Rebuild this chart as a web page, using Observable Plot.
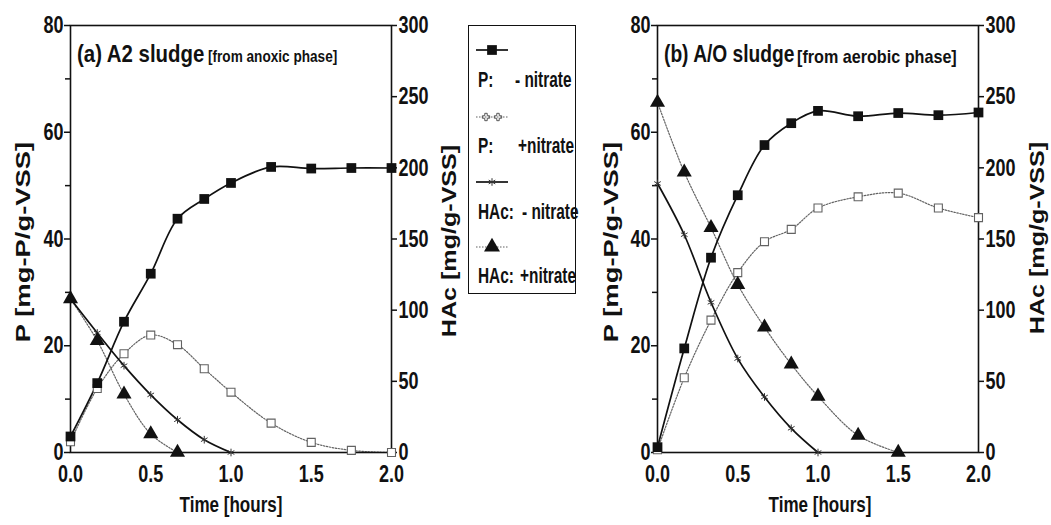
<!DOCTYPE html>
<html><head><meta charset="utf-8">
<script src="https://cdn.jsdelivr.net/npm/d3@7"></script>
<script src="https://cdn.jsdelivr.net/npm/@observablehq/plot@0.6"></script>
<style>
body{margin:0;background:#fff;}
#wrap{position:relative;width:1051px;height:525px;overflow:hidden;font-family:"Liberation Sans",Arial,sans-serif;font-weight:bold;color:#111;}
.panel{position:absolute;top:0;}
.anchor{position:absolute;width:0;height:0;}
.anchor span{position:absolute;left:0;top:0;white-space:nowrap;transform-origin:50% 50%;}
.title{position:absolute;white-space:nowrap;line-height:1;transform-origin:0 0;}
.leg{position:absolute;white-space:pre;font-size:22px;line-height:1;transform:scaleX(0.7);transform-origin:0 0;}
</style></head><body><div id="wrap"></div><script>
const FONT = '"Liberation Sans",Arial,sans-serif';

// time points (hours)
const times = [0, 1/6, 1/3, 0.5, 2/3, 5/6, 1, 1.25, 1.5, 1.75, 2];
// axis tick values
const xTicks = [0, 0.5, 1, 1.5, 2];
const pTicks = [0, 20, 40, 60, 80];
const pMinor = [10, 30, 50, 70];
const hTicks = [0, 50, 100, 150, 200, 250, 300];

// Panel (a) A2 sludge
const aP_minus = [3, 13, 24.5, 33.5, 43.8, 47.5, 50.5, 53.5, 53.2, 53.3, 53.3];
const aP_plus  = [2, 12, 18.5, 22, 20.2, 15.7, 11.3, 5.5, 1.9, 0.4, 0];
const aH_minus = [108, 84, 61, 40.5, 23, 9, 0];
const aH_plus  = [108, 78.5, 41, 13, 0];

// Panel (b) A/O sludge
const bP_minus = [1, 19.5, 36.5, 48.2, 57.6, 61.7, 64, 63, 63.6, 63.2, 63.7];
const bP_plus  = [0.5, 14, 24.8, 33.7, 39.5, 41.8, 45.8, 47.9, 48.6, 45.8, 44];
const bH_minus = [189, 153, 105.5, 66, 39, 17, 0];
const bH_plus  = [246, 197, 158, 118, 88, 62, 39.5, 12, 0];

const legendLabels = [["P:", "- nitrate"], ["P:", "+nitrate"], ["HAc:", "- nitrate"], ["HAc:", "+nitrate"]];

const HSCALE = 80 / 300;
const rows = (vals, k = 1) => vals.map((v, i) => ({t: times[i], y: v * k}));

function panel(pm, pp, hm, hp, width, ml, mr) {
  const grey = "#626262";
  const svg = Plot.plot({
    width, height: 525,
    marginLeft: ml, marginRight: mr, marginTop: 25, marginBottom: 73,
    x: {domain: [0, 2]},
    y: {domain: [0, 80]},
    style: {fontFamily: FONT, fontSize: "24px", fontWeight: "bold", background: "transparent", overflow: "visible", color: "#111"},
    marks: [
      Plot.axisX(xTicks, {tickSize: 0, tickPadding: 12, tickFormat: d3.format(".1f"), label: null}),
      Plot.axisY(pTicks, {anchor: "left", tickSize: 6, tickPadding: 1, label: null, strokeWidth: 1.5}),
      Plot.axisY(pMinor, {anchor: "left", tickSize: 5, tickFormat: () => "", label: null, strokeWidth: 1.5}),
      Plot.axisY(hTicks.map(h => h * HSCALE), {anchor: "right", tickSize: 5, tickPadding: 2, tickFormat: d => Math.round(d / HSCALE), label: null, strokeWidth: 1.5}),
      // +nitrate (dotted grey)
      Plot.line(rows(pp), {x: "t", y: "y", curve: "catmull-rom", stroke: grey, strokeWidth: 1.2, strokeDasharray: "1.5,1.5"}),
      Plot.line(rows(hp, HSCALE), {x: "t", y: "y", curve: "catmull-rom", stroke: grey, strokeWidth: 1.2, strokeDasharray: "1.5,1.5"}),
      // -nitrate (solid black)
      Plot.line(rows(hm, HSCALE), {x: "t", y: "y", curve: "catmull-rom", stroke: "#111", strokeWidth: 1.7}),
      Plot.line(rows(pm), {x: "t", y: "y", curve: "catmull-rom", stroke: "#111", strokeWidth: 1.7}),
      Plot.frame({stroke: "#111", strokeWidth: 1.6}),
      Plot.dot(rows(pp), {x: "t", y: "y", symbol: "square", r: 4.5, fill: "white", stroke: grey, strokeWidth: 1.1}),
      Plot.dot(rows(hm, HSCALE), {x: "t", y: "y", symbol: "asterisk", r: 3.6, stroke: "#333", strokeWidth: 1}),
      Plot.dot(rows(hp, HSCALE), {x: "t", y: "y", symbol: "triangle", r: 5.6, fill: "#111"}),
      Plot.dot(rows(pm), {x: "t", y: "y", symbol: "square", r: 5.5, fill: "#111"})
    ]
  });
  // condense tick labels horizontally (narrow face), scaling about each label's anchor
  svg.querySelectorAll("text").forEach(t => {
    const tr = t.getAttribute("transform") || "";
    t.setAttribute("transform", tr + " scale(0.75,1)");
  });
  return svg;
}

const wrap = document.getElementById("wrap");
const a = panel(aP_minus, aP_plus, aH_minus, aH_plus, 470, 70, 79);
a.classList.add("panel"); a.style.left = "0px";
wrap.appendChild(a);
const b = panel(bP_minus, bP_plus, bH_minus, bH_plus, 463, 69, 73);
b.classList.add("panel"); b.style.left = "588px";
wrap.appendChild(b);

// titles
function title(x, big, small, bigK, smallSize, smallK, gap) {
  const d = document.createElement("div");
  d.className = "title";
  d.style.left = x + "px"; d.style.top = "42px";
  d.innerHTML = `<span style="font-size:24px;display:inline-block;transform:scaleX(${bigK});transform-origin:0 0">${big}</span>`;
  wrap.appendChild(d);
  const s = d.firstChild;
  const w = s.offsetWidth * bigK;
  const d2 = document.createElement("div");
  d2.className = "title";
  d2.style.left = (x + w + gap) + "px"; d2.style.top = (42 + 24 * 0.905 - smallSize * 0.905) + "px";
  d2.innerHTML = `<span style="font-size:${smallSize}px;display:inline-block;transform:scaleX(${smallK});transform-origin:0 0">${small}</span>`;
  wrap.appendChild(d2);
}
title(77, "(a) A2 sludge", "[from anoxic phase]", 0.85, 16, 0.85, 3);
title(664, "(b) A/O sludge", "[from aerobic phase]", 0.8, 19, 0.85, 3);

// axis titles (anchored at their centre)
function axisTitle(text, cx, cy, size, rotate, targetLen) {
  const d = document.createElement("div");
  d.className = "anchor";
  d.style.left = cx + "px"; d.style.top = cy + "px";
  const s = document.createElement("span");
  s.textContent = text;
  s.style.fontSize = size + "px";
  s.style.lineHeight = "1";
  d.appendChild(s);
  wrap.appendChild(d);
  const w = s.offsetWidth;
  const k = targetLen ? targetLen / w : 1;
  s.style.transform = `translate(-50%,-50%) ${rotate ? "rotate(-90deg)" : ""} scaleX(${k})`;
}
axisTitle("P [mg-P/g-VSS]", 23, 242, 20, true, 200);
axisTitle("HAc [mg/g-VSS]", 449, 241, 20, true, 192);
axisTitle("P [mg-P/g-VSS]", 611, 242, 20, true, 200);
axisTitle("HAc [mg/g-VSS]", 1037, 238, 20, true, 192);
axisTitle("Time [hours]", 231, 505, 22, false, 103);
axisTitle("Time [hours]", 820, 505, 22, false, 103);

// legend box
const box = document.createElement("div");
box.style.cssText = "position:absolute;left:468px;top:25px;width:108px;height:269px;border:1.5px solid #111;box-sizing:border-box;";
wrap.appendChild(box);
const ns = "http://www.w3.org/2000/svg";
const lsvg = document.createElementNS(ns, "svg");
lsvg.setAttribute("width", 1051); lsvg.setAttribute("height", 525);
lsvg.style.cssText = "position:absolute;left:0;top:0;pointer-events:none;";
wrap.appendChild(lsvg);
const sampleY = [50, 117, 182, 247];
const sampleStyle = [
  {stroke: "#111", w: 1.7, dash: null, sym: d3.symbolSquare, size: 95, fill: "#111", pts: [492]},
  {stroke: "#626262", w: 1.2, dash: "1.5,1.5", sym: d3.symbolCross, size: 30, fill: "none", symStroke: "#555", pts: [486, 498]},
  {stroke: "#111", w: 1.7, dash: null, sym: d3.symbolAsterisk, size: 40, fill: "none", symStroke: "#333", pts: [492]},
  {stroke: "#626262", w: 1.2, dash: "1.5,1.5", sym: d3.symbolTriangle, size: 110, fill: "#111", pts: [492]}
];
sampleStyle.forEach((st, i) => {
  const y = sampleY[i];
  const ln = document.createElementNS(ns, "line");
  ln.setAttribute("x1", 476); ln.setAttribute("x2", 508);
  ln.setAttribute("y1", y); ln.setAttribute("y2", y);
  ln.setAttribute("stroke", st.stroke); ln.setAttribute("stroke-width", st.w);
  if (st.dash) ln.setAttribute("stroke-dasharray", st.dash);
  lsvg.appendChild(ln);
  st.pts.forEach(x => {
    const p = document.createElementNS(ns, "path");
    p.setAttribute("d", d3.symbol().type(st.sym).size(st.size)());
    p.setAttribute("transform", `translate(${x},${y})`);
    p.setAttribute("fill", st.fill);
    if (st.symStroke) { p.setAttribute("stroke", st.symStroke); p.setAttribute("stroke-width", 1); }
    lsvg.appendChild(p);
  });
});
const legBase = [88, 154, 220, 284];
const restX = [515, 518, 522, 520];
legendLabels.forEach(([pre, rest], i) => {
  const t1 = document.createElement("div");
  t1.className = "leg"; t1.textContent = pre;
  t1.style.left = "478px"; t1.style.top = (legBase[i] - 18.6) + "px";
  wrap.appendChild(t1);
  const t2 = document.createElement("div");
  t2.className = "leg"; t2.textContent = rest;
  t2.style.left = restX[i] + "px"; t2.style.top = (legBase[i] - 18.6) + "px";
  wrap.appendChild(t2);
});
</script></body></html>
